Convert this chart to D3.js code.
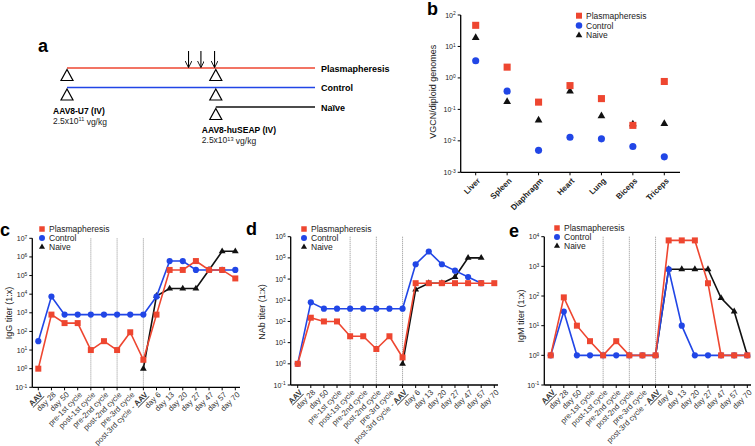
<!DOCTYPE html>
<html><head><meta charset="utf-8">
<script src="https://cdn.jsdelivr.net/npm/d3@7/dist/d3.min.js"></script>
<style>body{margin:0;background:#fff}svg{display:block;font-family:Arial,"Liberation Sans",sans-serif}</style>
</head><body><svg id="chart" width="755" height="446"></svg>
<script>
// ---------- DATA ----------
const seriesNames = ["Plasmapheresis", "Control", "Naive"];

// panel a (schematic)
const groups = ["Plasmapheresis", "Control", "Naïve"];
const groupStart = [0, 0, 60];
const injTimes = [0, 60];
const injGroups = [[0, 1], [0, 1, 2]];
const injNames = ["AAV8-U7 (IV)", "AAV8-huSEAP (IV)"];
const injDoseExp = ["11", "13"];
const plasmaTimes = [49, 54, 59.5];

// panel b
const tissues = ["Liver", "Spleen", "Diaphragm", "Heart", "Lung", "Biceps", "Triceps"];
const vgcnPlasma = [47, 2.2, 0.17, 0.57, 0.22, 0.031, 0.77];
const vgcnControl = [3.5, 0.38, 0.005, 0.013, 0.0116, 0.0066, 0.0031];
const vgcnNaive = [19, 0.175, 0.045, 0.38, 0.062, 0.034, 0.035];
const bTickExps = [-3, -2, -1, 0, 1, 2];

// panels c, d, e
const timepoints = ["AAV", "day 28", "day 50", "pre-1st cycle", "post-1st cycle", "pre-2nd cycle",
  "post-2nd cycle", "pre-3rd cycle", "post-3rd cycle - AAV", "day 6", "day 13", "day 20",
  "day 27", "day 47", "day 57", "day 70"];
const cyclePoints = ["post-1st cycle", "post-2nd cycle", "post-3rd cycle - AAV"];
const N = null;
const iggPlasma  = [1, 800, 280, 280, 10, 30, 10, 90, 3, 800, 2e5, 2e5, 6e5, 2e5, 2e5, 7e4];
const iggControl = [30, 7500, 800, 800, 800, 800, 800, 800, 800, 7500, 6e5, 6e5, 2e5, 2e5, 2e5, 2e5];
const iggNaive   = [N, N, N, N, N, N, N, N, 1, 8000, 2e4, 2e4, 2e4, 2e5, 2e6, 2e6];
const iggTickExps = [-1, 0, 1, 2, 3, 4, 5, 6, 7];

const nabPlasma  = [1, 150, 100, 100, 20, 20, 5, 20, 2, 6400, 6400, 6400, 6400, 6400, 6400, 6400];
const nabControl = [1, 800, 400, 400, 400, 400, 400, 400, 400, 5e4, 2e5, 5e4, 2.5e4, 1.25e4, 6400, N];
const nabNaive   = [N, N, N, N, N, N, N, N, 1, 3200, 6400, 6400, 1.25e4, 1e5, 1e5, N];
const nabTickExps = [-1, 0, 1, 2, 3, 4, 5, 6];

const igmPlasma  = [1, 90, 10, 3, 1, 3, 1, 1, 1, 7500, 7500, 7500, 270, 1, 1, 1];
const igmControl = [1, 30, 1, 1, 1, 1, 1, 1, 1, 800, 10, 1, 1, 1, 1, 1];
const igmNaive   = [N, N, N, N, N, N, N, N, 1, 800, 800, 800, 800, 85, 30, 1];
const igmTickExps = [-1, 0, 1, 2, 3, 4];

// ---------- STYLE ----------
const RED = "#ee4630", BLUE = "#2146e6", BLACK = "#111";
const colorOf = {Plasmapheresis: RED, Control: BLUE, Naive: BLACK};
const symOf = {Plasmapheresis: d3.symbolSquare, Control: d3.symbolCircle, Naive: d3.symbolTriangle};
const legSize = {Plasmapheresis: 30, Control: 28, Naive: 16};

const svg = d3.select("#chart");
svg.append("defs").append("marker").attr("id", "arr").attr("viewBox", "0 0 10 10")
  .attr("refX", 9).attr("refY", 5).attr("markerWidth", 7).attr("markerHeight", 7)
  .attr("markerUnits", "userSpaceOnUse").attr("orient", "auto")
  .append("path").attr("d", "M0,0 L10,5 L0,10").attr("fill", "none").attr("stroke", "#000").attr("stroke-width", 1.3);

function panelLetter(txt, x, y) {
  svg.append("text").attr("x", x).attr("y", y).attr("font-size", 18).attr("font-weight", "bold").text(txt);
}
function pow10Label(sel, exp) {
  sel.append("tspan").text("10");
  sel.append("tspan").attr("dy", "-0.45em").attr("font-size", "0.7em").text(exp);
}
function yLogAxis(g, y, axisX, exps) {
  g.append("line").attr("x1", axisX).attr("x2", axisX)
    .attr("y1", y(Math.pow(10, d3.max(exps)))).attr("y2", y(Math.pow(10, d3.min(exps))))
    .attr("stroke", "#000").attr("stroke-width", 1.3);
  exps.forEach(e => {
    const yy = y(Math.pow(10, e));
    g.append("line").attr("x1", axisX - 3).attr("x2", axisX).attr("y1", yy).attr("y2", yy)
      .attr("stroke", "#000").attr("stroke-width", 1);
    const t = g.append("text").attr("x", axisX - 5).attr("y", yy + 2.5).attr("text-anchor", "end")
      .attr("font-size", 7).attr("fill", "#222");
    pow10Label(t, e);
  });
}
function legend(g, x, y0, dy, scale) {
  seriesNames.forEach((s, i) => {
    g.append("path").attr("d", d3.symbol(symOf[s], legSize[s] * scale)())
      .attr("transform", `translate(${x},${y0 + i * dy})`).attr("fill", colorOf[s]);
    g.append("text").attr("x", x + 7).attr("y", y0 + i * dy + 3).attr("font-size", 8.5)
      .attr("fill", "#222").text(s);
  });
}

// ---------- PANEL a ----------
(function () {
  const g = svg.append("g");
  panelLetter("a", 38, 52);
  const t = d3.scaleLinear([0, 100], [67, 315]);
  const gy = d3.scalePoint(groups, [68, 107]);
  const lineColors = [RED, BLUE, BLACK];
  groups.forEach((grp, i) => {
    g.append("line").attr("x1", t(groupStart[i])).attr("x2", t(100))
      .attr("y1", gy(grp)).attr("y2", gy(grp)).attr("stroke", lineColors[i]).attr("stroke-width", 1.6);
    g.append("text").attr("x", t(100) + 6).attr("y", gy(grp) + 3.5).attr("font-size", 9)
      .attr("font-weight", "bold").text(grp);
  });
  injTimes.forEach((tt, k) => {
    const x = t(tt);
    injGroups[k].forEach(i => {
      const y = gy(groups[i]) + 1.5;
      g.append("path").attr("d", `M${x},${y}L${x - 6},${y + 11}L${x + 6},${y + 11}Z`)
        .attr("fill", "#fff").attr("stroke", "#000").attr("stroke-width", 1.2);
    });
    const lastY = gy(groups[d3.max(injGroups[k])]);
    g.append("text").attr("x", x - 14).attr("y", lastY + 26).attr("font-size", 8.5)
      .attr("font-weight", "bold").text(injNames[k]);
    const d = g.append("text").attr("x", x - 14).attr("y", lastY + 36).attr("font-size", 8.5).attr("fill", "#222");
    d.append("tspan").text("2.5x10");
    d.append("tspan").attr("dy", "-0.4em").attr("font-size", "0.65em").text(injDoseExp[k]);
    d.append("tspan").attr("dy", "0.4em").text(" vg/kg");
  });
  plasmaTimes.forEach(tt => {
    g.append("line").attr("x1", t(tt)).attr("x2", t(tt)).attr("y1", 51).attr("y2", gy(groups[0]) - 1)
      .attr("stroke", "#000").attr("stroke-width", 1.1).attr("marker-end", "url(#arr)");
  });
})();

// ---------- PANEL b ----------
(function () {
  const g = svg.append("g");
  panelLetter("b", 427, 15);
  const axisX = 460.7, axisEnd = 680;
  const y = d3.scaleLog([1e-3, 1e2], [172.3, 15]);
  const x = d3.scalePoint(tissues, [475.7, 664.3]);
  yLogAxis(g, y, axisX, bTickExps);
  g.append("line").attr("x1", axisX).attr("x2", axisEnd).attr("y1", y(1e-3)).attr("y2", y(1e-3))
    .attr("stroke", "#000").attr("stroke-width", 1.3);
  tissues.forEach(c => {
    g.append("line").attr("x1", x(c)).attr("x2", x(c)).attr("y1", y(1e-3)).attr("y2", y(1e-3) + 3)
      .attr("stroke", "#000");
    g.append("text").attr("transform", `translate(${x(c) + 3},${y(1e-3) + 7}) rotate(-45)`)
      .attr("text-anchor", "end").attr("dy", "0.35em").attr("font-size", 8).attr("font-weight", "bold")
      .attr("fill", "#222").text(c);
  });
  g.append("text").attr("transform", `translate(436,${(y(1e2) + y(1e-3)) / 2 - 2}) rotate(-90)`)
    .attr("text-anchor", "middle").attr("font-size", 9).attr("fill", "#222").text("VGCN/diploid genomes");
  const sets = [["Naive", vgcnNaive, 26], ["Control", vgcnControl, 40], ["Plasmapheresis", vgcnPlasma, 50]];
  sets.forEach(([s, vals, size]) => {
    g.selectAll(null).data(vals).enter().append("path")
      .attr("d", d3.symbol(symOf[s], size)())
      .attr("transform", (v, i) => `translate(${x(tissues[i])},${y(v)})`)
      .attr("fill", colorOf[s]);
  });
  legend(g, 579, 15.7, 9.8, 1.2);
})();

// ---------- PANELS c, d, e ----------
function xLabel(g, label, x, y) {
  const t = g.append("text").attr("transform", `translate(${x + 3},${y + 6}) rotate(-45)`)
    .attr("text-anchor", "end").attr("dy", "0.35em").attr("font-size", 7.8).attr("fill", "#333");
  const idx = label.indexOf("AAV");
  if (idx >= 0) {
    if (idx > 0) t.append("tspan").text(label.slice(0, idx));
    t.append("tspan").attr("font-weight", "bold").attr("text-decoration", "underline").text("AAV");
  } else t.text(label);
}
function titerPanel(cfg) {
  const g = svg.append("g");
  panelLetter(cfg.letter, cfg.letterX, cfg.letterY);
  const exps = cfg.exps;
  const y = d3.scaleLog([Math.pow(10, d3.min(exps)), Math.pow(10, d3.max(exps))], [cfg.yBottom, cfg.yTop]);
  const x = d3.scalePoint(timepoints, [cfg.x0, cfg.x1]);
  cyclePoints.forEach(c => {
    g.append("line").attr("x1", x(c)).attr("x2", x(c)).attr("y1", cfg.yTop).attr("y2", cfg.yBottom)
      .attr("stroke", "#9a9a9a").attr("stroke-width", 0.9).attr("stroke-dasharray", "1.2,0.8");
  });
  yLogAxis(g, y, cfg.axisX, exps);
  g.append("line").attr("x1", cfg.axisX).attr("x2", cfg.axisEnd).attr("y1", cfg.yBottom).attr("y2", cfg.yBottom)
    .attr("stroke", "#000").attr("stroke-width", 1.3);
  timepoints.forEach(c => {
    g.append("line").attr("x1", x(c)).attr("x2", x(c)).attr("y1", cfg.yBottom).attr("y2", cfg.yBottom + 3)
      .attr("stroke", "#000");
    xLabel(g, c, x(c), cfg.yBottom);
  });
  g.append("text").attr("transform", `translate(${cfg.labelX},${cfg.labelY}) rotate(-90)`)
    .attr("text-anchor", "middle").attr("font-size", 9).attr("fill", "#222").text(cfg.ylabel);
  const sets = [["Naive", cfg.naive, 20], ["Control", cfg.control, 30], ["Plasmapheresis", cfg.plasma, 36]];
  sets.forEach(([s, vals, size]) => {
    const pts = vals.map((v, i) => [timepoints[i], v]).filter(p => p[1] != null);
    g.append("path").datum(pts)
      .attr("d", d3.line().x(p => x(p[0])).y(p => y(p[1])))
      .attr("fill", "none").attr("stroke", colorOf[s]).attr("stroke-width", 1.6);
    g.selectAll(null).data(pts).enter().append("path")
      .attr("d", d3.symbol(symOf[s], size)())
      .attr("transform", p => `translate(${x(p[0])},${y(p[1])})`).attr("fill", colorOf[s]);
  });
  legend(g, cfg.legX, cfg.legY, 9, 1);
}

titerPanel({letter: "c", letterX: 0, letterY: 236, exps: iggTickExps, yTop: 238.3, yBottom: 387.3,
  x0: 38.3, x1: 235.3, axisX: 32.3, axisEnd: 240, labelX: 12, labelY: 313, ylabel: "IgG titer (1:x)",
  plasma: iggPlasma, control: iggControl, naive: iggNaive, legX: 42, legY: 229});
titerPanel({letter: "d", letterX: 246, letterY: 235, exps: nabTickExps, yTop: 236.7, yBottom: 385,
  x0: 297.7, x1: 494.3, axisX: 290.7, axisEnd: 498, labelX: 265, labelY: 312, ylabel: "NAb titer (1:x)",
  plasma: nabPlasma, control: nabControl, naive: nabNaive, legX: 304, legY: 229});
titerPanel({letter: "e", letterX: 509, letterY: 237, exps: igmTickExps, yTop: 236.7, yBottom: 385,
  x0: 550.7, x1: 747.3, axisX: 544.3, axisEnd: 751, labelX: 524, labelY: 316, ylabel: "IgM titer (1:x)",
  plasma: igmPlasma, control: igmControl, naive: igmNaive, legX: 557, legY: 228});
</script></body></html>
